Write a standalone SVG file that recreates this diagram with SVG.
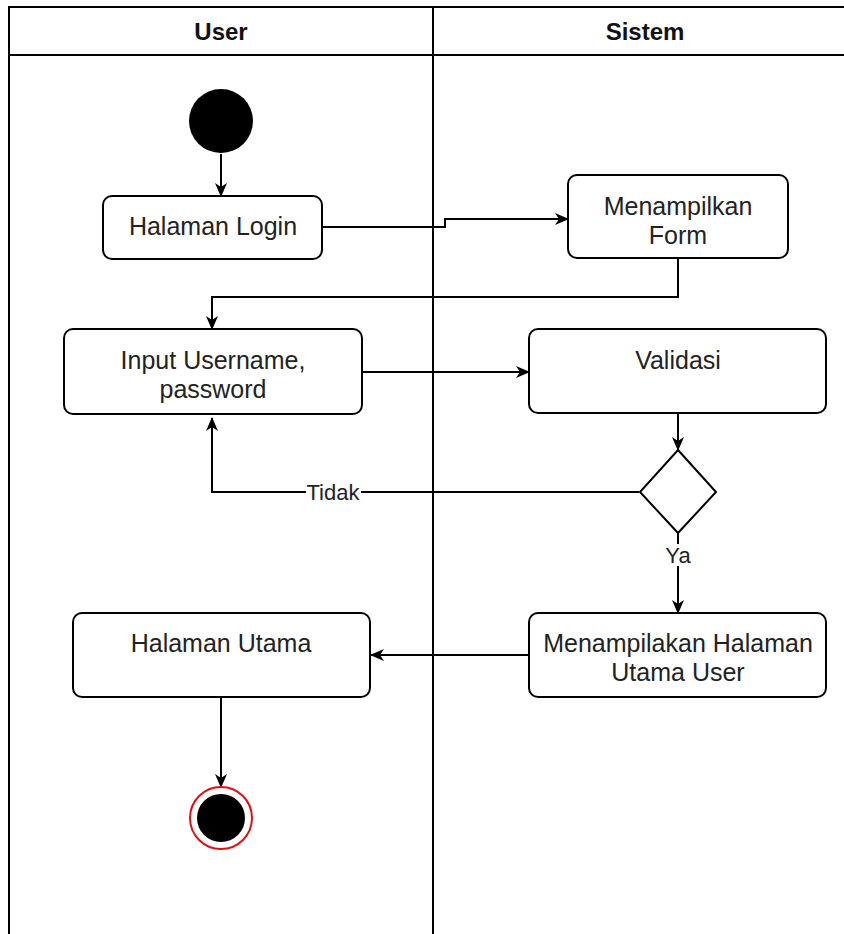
<svg xmlns="http://www.w3.org/2000/svg" width="844" height="934" viewBox="0 0 844 934">
  <style>
    .lane { fill: none; stroke: #000; stroke-width: 2; }
    .head { font-family: "Liberation Sans", Arial, sans-serif; font-size: 24px; font-weight: bold; fill: #111; text-anchor: middle; }
    .box { fill: #fff; stroke: #000; stroke-width: 2; }
    .lbl { font-family: "Liberation Sans", Arial, sans-serif; font-size: 25px; fill: #222; text-anchor: middle; }
    .edge { fill: none; stroke: #000; stroke-width: 2; }
    .elbl { font-family: "Liberation Sans", Arial, sans-serif; font-size: 22px; fill: #222; text-anchor: middle; }
  </style>
  <defs>
    <marker id="arrow" markerUnits="userSpaceOnUse" markerWidth="14" markerHeight="12" viewBox="0 0 14 12" refX="13" refY="6" orient="auto">
      <path d="M0,0 L14,6 L0,12 L4,6 Z" fill="#000"/>
    </marker>
  </defs>
  <rect width="844" height="934" fill="#fff"/>

  <!-- swimlanes -->
  <g id="lanes">
    <path class="lane" d="M9,950 L9,7 L860,7 M9,55 L860,55 M433,7 L433,950"/>
    <text class="head" x="221" y="40">User</text>
    <text class="head" x="645" y="40">Sistem</text>
  </g>

  <!-- connectors -->
  <g id="connectors">
    <path class="edge" d="M221,154 L221,196" marker-end="url(#arrow)"/>
    <path class="edge" d="M322,227 L445,227 L445,219 L568,219" marker-end="url(#arrow)"/>
    <path class="edge" d="M678,258 L678,297 L212,297 L212,329" marker-end="url(#arrow)"/>
    <path class="edge" d="M362,372 L529,372" marker-end="url(#arrow)"/>
    <path class="edge" d="M678,413 L678,450" marker-end="url(#arrow)"/>
    <path class="edge" d="M639,492 L212,492 L212,418" marker-end="url(#arrow)"/>
    <path class="edge" d="M678,533 L678,613" marker-end="url(#arrow)"/>
    <path class="edge" d="M529,655 L371,655" marker-end="url(#arrow)"/>
    <path class="edge" d="M221,697 L221,787" marker-end="url(#arrow)"/>
    <rect x="306" y="481" width="55" height="22" fill="#fff"/>
    <text class="elbl" x="333" y="500">Tidak</text>
    <rect x="665" y="544" width="26" height="22" fill="#fff"/>
    <text class="elbl" x="678" y="563">Ya</text>
  </g>

  <g id="start">
    <circle cx="221" cy="121" r="32" fill="#000"/>
  </g>

  <g id="halaman-login">
    <rect class="box" x="103" y="196" width="219" height="63" rx="9"/>
    <text class="lbl" x="213" y="235">Halaman Login</text>
  </g>

  <g id="menampilkan-form">
    <rect class="box" x="568" y="175" width="220" height="83" rx="9"/>
    <text class="lbl" x="678" y="215">Menampilkan</text>
    <text class="lbl" x="678" y="244">Form</text>
  </g>

  <g id="input-username">
    <rect class="box" x="64" y="329" width="298" height="85" rx="9"/>
    <text class="lbl" x="213" y="369">Input Username,</text>
    <text class="lbl" x="213" y="398">password</text>
  </g>

  <g id="validasi">
    <rect class="box" x="529" y="329" width="297" height="84" rx="9"/>
    <text class="lbl" x="678" y="369">Validasi</text>
  </g>

  <g id="decision">
    <path class="box" d="M678,450 L716,492 L678,533 L640,492 Z"/>
  </g>

  <g id="menampilkan-halaman-utama">
    <rect class="box" x="529" y="613" width="297" height="84" rx="9"/>
    <text class="lbl" x="678" y="652">Menampilakan Halaman</text>
    <text class="lbl" x="678" y="681">Utama User</text>
  </g>

  <g id="halaman-utama">
    <rect class="box" x="73" y="613" width="297" height="84" rx="9"/>
    <text class="lbl" x="221" y="652">Halaman Utama</text>
  </g>

  <g id="end">
    <circle cx="221" cy="818" r="31" fill="#fff" stroke="#d11" stroke-width="2"/>
    <circle cx="221" cy="818" r="24" fill="#000"/>
  </g>
</svg>
